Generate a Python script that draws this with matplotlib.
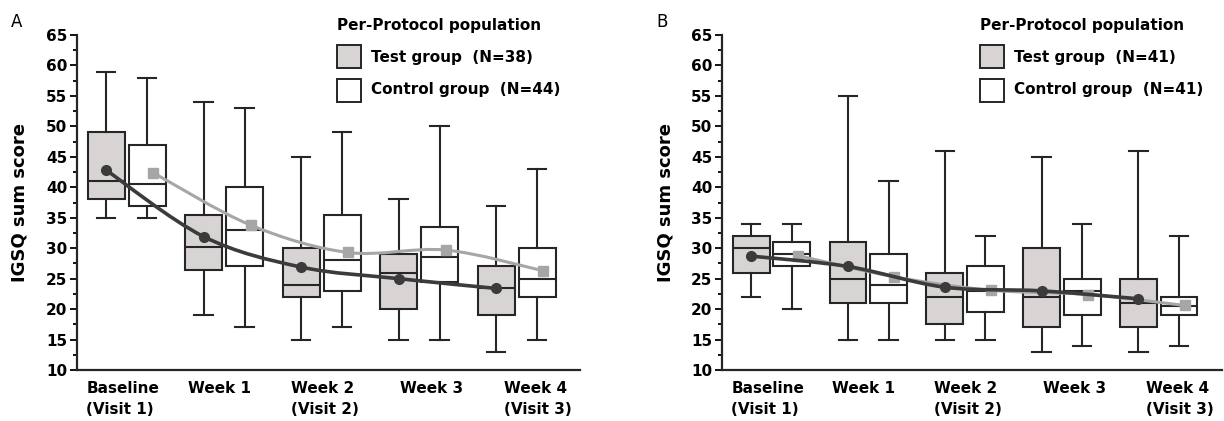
import numpy as np
import matplotlib
matplotlib.use('Agg')
import matplotlib.pyplot as plt
from matplotlib.path import Path
from matplotlib.patches import PathPatch, Rectangle

categories = ['Baseline\n(Visit 1)', 'Week 1', 'Week 2\n(Visit 2)', 'Week 3', 'Week 4\n(Visit 3)']

# panel A
a_test_low = [35, 19, 15, 15, 13]
a_test_q1 = [38, 26.5, 22, 20, 19]
a_test_med = [41, 30.2, 24, 26, 23.5]
a_test_q3 = [49, 35.5, 30, 29, 27]
a_test_high = [59, 54, 45, 38, 37]
a_test_mean = [42.8, 31.9, 26.9, 25.0, 23.4]

a_ctrl_low = [35, 17, 17, 15, 15]
a_ctrl_q1 = [37, 27, 23, 24.5, 22]
a_ctrl_med = [40.5, 33, 28, 28.5, 25]
a_ctrl_q3 = [47, 40, 35.5, 33.5, 30]
a_ctrl_high = [58, 53, 49, 50, 43]
a_ctrl_mean = [42.4, 33.8, 29.3, 29.7, 26.3]

# panel B
b_test_low = [22, 15, 15, 13, 13]
b_test_q1 = [26, 21, 17.5, 17, 17]
b_test_med = [30, 25, 22, 22, 21]
b_test_q3 = [32, 31, 26, 30, 25]
b_test_high = [34, 55, 46, 45, 46]
b_test_mean = [28.7, 27.0, 23.6, 23.0, 21.7]

b_ctrl_low = [20, 15, 15, 14, 14]
b_ctrl_q1 = [27, 21, 19.6, 19, 19]
b_ctrl_med = [29, 24, 23, 23, 20.5]
b_ctrl_q3 = [31, 29, 27, 25, 22]
b_ctrl_high = [34, 41, 32, 34, 32]
b_ctrl_mean = [28.8, 25.3, 23.1, 22.4, 20.6]

a_n = (38, 44)
b_n = (41, 41)

EDGE = '#262626'
TEST_FILL = '#d9d4d4'
DARK = '#3b3b3b'
LIGHT = '#a6a6a6'

OFF = 0.21
BW = 0.38
LABEL_SHIFT = [-0.04, -0.05, 0.03, 0.13, 0.22]


def stats(low, q1, med, q3, high):
    return [dict(whislo=l, q1=a, med=m, q3=b, whishi=h, fliers=[])
            for l, a, m, b, h in zip(low, q1, med, q3, high)]


def smooth_line(ax, xs, ys, color, lw, z):
    # catmull-rom curve drawn as bezier path through the means
    p = np.column_stack([xs, ys])
    ext = np.vstack([p[0], p, p[-1]])
    verts = [tuple(p[0])]
    codes = [Path.MOVETO]
    for i in range(len(p) - 1):
        p0, p1, p2, p3 = ext[i], ext[i + 1], ext[i + 2], ext[i + 3]
        c1 = p1 + (p2 - p0) / 6
        c2 = p2 - (p3 - p1) / 6
        verts += [tuple(c1), tuple(c2), tuple(p2)]
        codes += [Path.CURVE4] * 3
    ax.add_patch(PathPatch(Path(verts, codes), fill=False, edgecolor=color,
                           lw=lw, zorder=z, capstyle='round'))


def panel(ax, test, ctrl, tmean, cmean, n):
    x = np.arange(len(categories))
    common = dict(widths=BW, patch_artist=True, showfliers=False, capwidths=BW * 0.5,
                  whiskerprops=dict(color=EDGE, lw=1.5),
                  capprops=dict(color=EDGE, lw=1.5),
                  medianprops=dict(color=EDGE, lw=1.5))
    ax.bxp(stats(*test), positions=x - OFF,
           boxprops=dict(facecolor=TEST_FILL, edgecolor=EDGE, lw=1.5), **common)
    ax.bxp(stats(*ctrl), positions=x + OFF,
           boxprops=dict(facecolor='white', edgecolor=EDGE, lw=1.5), **common)

    smooth_line(ax, x + OFF + 0.06, cmean, LIGHT, 2.2, 4)
    ax.plot(x + OFF + 0.06, cmean, 's', color=LIGHT, ms=6.5, zorder=5)
    smooth_line(ax, x - OFF, tmean, DARK, 2.6, 6)
    ax.plot(x - OFF, tmean, 'o', color=DARK, ms=7, zorder=7)

    ax.set_xlim(-0.51, 4.65)
    ax.set_ylim(10, 65)
    ax.set_yticks(np.arange(10, 66, 5))
    ax.set_yticks(np.arange(12.5, 65, 5), minor=True)
    ax.set_xticks(x + np.array(LABEL_SHIFT))
    ax.set_xticklabels(categories, fontweight='bold', fontsize=11,
                       multialignment='left', linespacing=1.45)
    ax.tick_params(axis='x', length=0, pad=8)
    ax.tick_params(axis='y', which='major', length=5, width=1.3, labelsize=11, pad=2)
    ax.tick_params(axis='y', which='minor', length=3, width=1.3)
    for lab in ax.get_yticklabels():
        lab.set_fontweight('bold')
    for s in ('top', 'right'):
        ax.spines[s].set_visible(False)
    for s in ('left', 'bottom'):
        ax.spines[s].set_linewidth(1.6)
        ax.spines[s].set_color(EDGE)
    ax.set_ylabel('IGSQ sum score', fontsize=13, fontweight='bold')
    ax.yaxis.set_label_coords(-0.096, 0.5)

    # legend
    tr = ax.transAxes
    ax.text(0.517, 1.027, 'Per-Protocol population', transform=tr, fontsize=11,
            fontweight='bold', va='center', ha='left', clip_on=False)
    ax.add_patch(Rectangle((0.517, 0.901), 0.048, 0.069, transform=tr, clip_on=False,
                           facecolor=TEST_FILL, edgecolor=EDGE, lw=1.4))
    ax.add_patch(Rectangle((0.517, 0.800), 0.048, 0.070, transform=tr, clip_on=False,
                           facecolor='white', edgecolor=EDGE, lw=1.4))
    ax.text(0.584, 0.934, 'Test group  (N=%d)' % n[0], transform=tr, fontsize=11,
            fontweight='bold', va='center', ha='left')
    ax.text(0.584, 0.836, 'Control group  (N=%d)' % n[1], transform=tr, fontsize=11,
            fontweight='bold', va='center', ha='left')


fig = plt.figure(figsize=(12.24, 4.21), dpi=100)
ax1 = fig.add_axes([0.0629, 0.121, 0.411, 0.796])
ax2 = fig.add_axes([0.590, 0.121, 0.408, 0.796])

panel(ax1, (a_test_low, a_test_q1, a_test_med, a_test_q3, a_test_high),
      (a_ctrl_low, a_ctrl_q1, a_ctrl_med, a_ctrl_q3, a_ctrl_high),
      a_test_mean, a_ctrl_mean, a_n)
panel(ax2, (b_test_low, b_test_q1, b_test_med, b_test_q3, b_test_high),
      (b_ctrl_low, b_ctrl_q1, b_ctrl_med, b_ctrl_q3, b_ctrl_high),
      b_test_mean, b_ctrl_mean, b_n)

fig.text(0.0085, 0.947, 'A', fontsize=12, va='center', ha='left')
fig.text(0.536, 0.947, 'B', fontsize=12, va='center', ha='left')

fig.savefig('out.png', dpi=100)
